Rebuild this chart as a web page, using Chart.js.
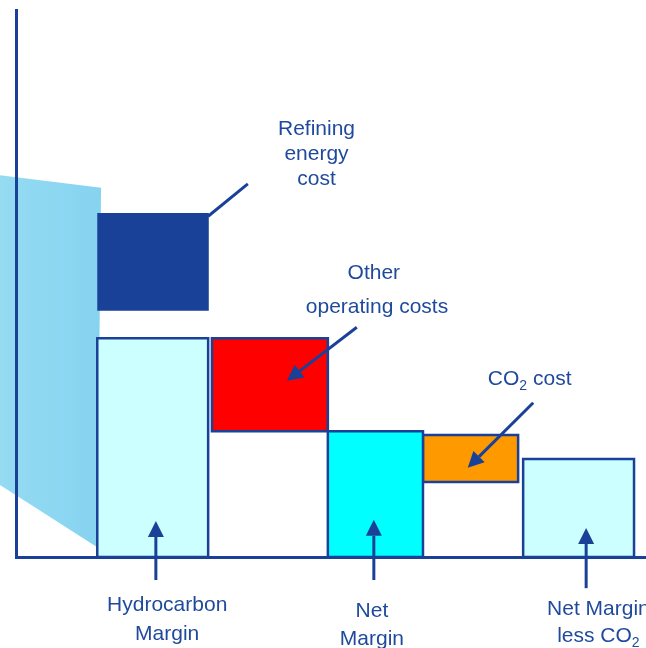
<!DOCTYPE html>
<html>
<head>
<meta charset="utf-8">
<script src="https://cdn.jsdelivr.net/npm/chart.js@4.4.0/dist/chart.umd.min.js"></script>
<style>
  html, body { margin: 0; padding: 0; background: #ffffff; }
  canvas { display: block; }
</style>
</head>
<body>
<canvas id="cascata" width="646" height="648"></canvas>
<script>
// Blocos do gráfico em cascata (unidades do eixo, 0-100)
const blockNames = ['Hydrocarbon Margin', 'Refining energy cost', 'Other operating costs', 'Net Margin', 'CO2 cost', 'Net Margin less CO2'];
const blockStart = [12.9, 12.9, 31.1, 49.5, 64.6, 80.5];
const blockEnd = [30.5, 30.6, 49.5, 64.6, 79.7, 98.1];
const blockLow = [0, 45.0, 23.0, 0, 13.7, 0];
const blockHigh = [40.0, 62.9, 40.0, 23.0, 22.3, 17.9];

// Faixa azul clara ao fundo (lado esquerdo)
const shadeX = [-2.6, 13.5, 12.9, -2.6];
const shadeY = [69.8, 67.5, 1.8, 13.2];

const azul = '#1a4198';
const textoAzul = '#1f4a9c';
const fills = ['#ccffff', '#1a4198', '#ff0000', '#00ffff', '#ff9900', '#ccffff'];
const borders = [azul, azul, azul, azul, azul, azul];

function rectPoints(i) {
  const x0 = blockStart[i], x1 = blockEnd[i], y0 = blockLow[i], y1 = blockHigh[i];
  return [{x: x0, y: y0}, {x: x1, y: y0}, {x: x1, y: y1}, {x: x0, y: y1}, {x: x0, y: y0}];
}

const datasets = blockNames.map((name, i) => ({
  label: name,
  data: rectPoints(i),
  showLine: true,
  fill: 'shape',
  backgroundColor: fills[i],
  borderColor: borders[i],
  borderWidth: i === 1 ? 0 : 2.5,
  borderCapStyle: 'square',
  borderJoinStyle: 'miter',
  pointRadius: 0,
  pointHoverRadius: 0,
  order: i
}));

// a faixa passa à esquerda do eixo, então é preenchida pelo plugin abaixo
datasets.push({
  label: 'fundo',
  data: shadeX.map((x, i) => ({x: x, y: shadeY[i]})),
  showLine: false,
  pointRadius: 0,
  clip: false,
  order: 20
});
const SHADE_IDX = datasets.length - 1;

// Setas e textos (em unidades do eixo)
const arrows = [
  {from: [22.2, -4.2], to: [22.2, 6.6], head: true},
  {from: [56.8, -4.2], to: [56.8, 6.8], head: true},
  {from: [90.5, -5.7], to: [90.5, 5.3], head: true},
  {from: [30.5, 62.3], to: [36.8, 68.2], head: false},
  {from: [54.1, 42.0], to: [43.0, 32.2], head: true},
  {from: [82.1, 28.2], to: [71.7, 16.3], head: true}
];

const labels = [
  {text: 'Refining', x: 47.7, y: 77.1, align: 'center'},
  {text: 'energy', x: 47.7, y: 72.5, align: 'center'},
  {text: 'cost', x: 47.7, y: 68.0, align: 'center'},
  {text: 'Other', x: 56.8, y: 50.9, align: 'center'},
  {text: 'operating costs', x: 57.3, y: 44.6, align: 'center'},
  {text: 'Hydrocarbon', x: 24.0, y: -9.9, align: 'center'},
  {text: 'Margin', x: 24.0, y: -15.2, align: 'center'},
  {text: 'Net', x: 56.5, y: -11.0, align: 'center'},
  {text: 'Margin', x: 56.5, y: -16.1, align: 'center'},
  {text: 'Net Margin', x: 84.3, y: -10.6, align: 'left'}
];

const subLabels = [
  {pre: 'CO', sub: '2', post: ' cost', x: 74.9, y: 31.4},
  {pre: 'less CO', sub: '2', post: '', x: 85.9, y: -15.5}
];

const faixa = {
  id: 'faixa',
  beforeDatasetsDraw(chart) {
    const pts = chart.getDatasetMeta(SHADE_IDX).data;
    const ctx = chart.ctx;
    const g = ctx.createLinearGradient(0, 0, pts[1].x, 0);
    g.addColorStop(0, '#95dbf2');
    g.addColorStop(1, '#86d3f0');
    ctx.save();
    ctx.fillStyle = g;
    ctx.beginPath();
    pts.forEach((p, i) => i ? ctx.lineTo(p.x, p.y) : ctx.moveTo(p.x, p.y));
    ctx.closePath();
    ctx.fill();
    ctx.restore();
  }
};

const anotacoes = {
  id: 'anotacoes',
  afterDraw(chart) {
    const ctx = chart.ctx;
    const sx = chart.scales.x, sy = chart.scales.y;
    ctx.save();
    ctx.strokeStyle = azul;
    ctx.fillStyle = azul;
    ctx.lineWidth = 3;
    arrows.forEach(a => {
      const x0 = sx.getPixelForValue(a.from[0]), y0 = sy.getPixelForValue(a.from[1]);
      const x1 = sx.getPixelForValue(a.to[0]), y1 = sy.getPixelForValue(a.to[1]);
      const ang = Math.atan2(y1 - y0, x1 - x0);
      const len = a.head ? 16 : 0;
      ctx.beginPath();
      ctx.moveTo(x0, y0);
      ctx.lineTo(x1 - Math.cos(ang) * len, y1 - Math.sin(ang) * len);
      ctx.stroke();
      if (a.head) {
        ctx.beginPath();
        ctx.moveTo(x1, y1);
        ctx.lineTo(x1 - Math.cos(ang) * len + Math.sin(ang) * 8, y1 - Math.sin(ang) * len - Math.cos(ang) * 8);
        ctx.lineTo(x1 - Math.cos(ang) * len - Math.sin(ang) * 8, y1 - Math.sin(ang) * len + Math.cos(ang) * 8);
        ctx.closePath();
        ctx.fill();
      }
    });

    ctx.fillStyle = textoAzul;
    ctx.textBaseline = 'alphabetic';
    ctx.font = '21px "Liberation Sans", Arial, sans-serif';
    labels.forEach(l => {
      ctx.textAlign = l.align;
      ctx.fillText(l.text, sx.getPixelForValue(l.x), sy.getPixelForValue(l.y));
    });

    ctx.textAlign = 'left';
    subLabels.forEach(l => {
      let x = sx.getPixelForValue(l.x);
      const y = sy.getPixelForValue(l.y);
      ctx.font = '21px "Liberation Sans", Arial, sans-serif';
      ctx.fillText(l.pre, x, y);
      x += ctx.measureText(l.pre).width;
      ctx.font = '14px "Liberation Sans", Arial, sans-serif';
      ctx.fillText(l.sub, x, y + 5);
      x += ctx.measureText(l.sub).width;
      ctx.font = '21px "Liberation Sans", Arial, sans-serif';
      if (l.post) ctx.fillText(l.post, x, y);
    });
    ctx.restore();
  }
};

const eixo = {
  type: 'linear',
  min: 0,
  max: 100,
  z: 1,
  ticks: { display: false },
  grid: { display: false, drawTicks: false },
  border: { display: true, color: azul, width: 3, z: 1 }
};

new Chart(document.getElementById('cascata'), {
  type: 'scatter',
  data: { datasets: datasets },
  options: {
    responsive: false,
    animation: false,
    events: [],
    layout: { padding: { left: 16, top: 10, right: 0, bottom: 91 } },
    scales: {
      x: Object.assign({}, eixo, { position: 'bottom' }),
      y: Object.assign({}, eixo, { position: 'left' })
    },
    plugins: {
      legend: { display: false },
      tooltip: { enabled: false }
    }
  },
  plugins: [faixa, anotacoes]
});
</script>
</body>
</html>
